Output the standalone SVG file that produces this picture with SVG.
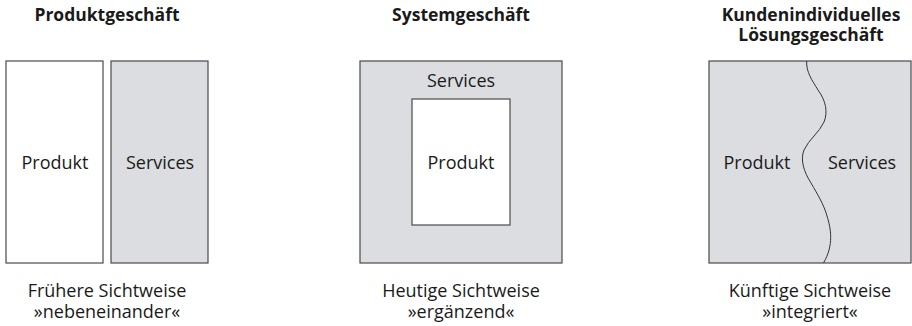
<svg xmlns="http://www.w3.org/2000/svg" width="912" height="326" viewBox="0 0 912 326">
  <style>
    .title { font-family: "Open Sans", "Noto Sans", sans-serif; font-weight: bold; font-size: 17.5px; fill: #1a1a1a; text-anchor: middle; }
    .label { font-family: "Open Sans", "Noto Sans", sans-serif; font-size: 18px; fill: #1a1a1a; text-anchor: middle; }
    .box { stroke: #4a4a4a; stroke-width: 1.2; }
    .white { fill: #ffffff; }
    .grey { fill: #dcdde0; }
  </style>
  <rect width="912" height="326" fill="#ffffff"/>

  <!-- Produktgeschäft: product and services side by side -->
  <g id="produktgeschaeft">
    <text class="title" x="107" y="21">Produktgeschäft</text>
    <g id="pg-produkt">
      <rect class="box white" x="6" y="61" width="97" height="202"/>
      <text class="label" x="55" y="169">Produkt</text>
    </g>
    <g id="pg-services">
      <rect class="box grey" x="111" y="61" width="97" height="202"/>
      <text class="label" x="160" y="169">Services</text>
    </g>
    <text class="label" x="107" y="297">Frühere Sichtweise</text>
    <text class="label" x="107" y="318">»nebeneinander«</text>
  </g>

  <!-- Systemgeschäft: services wrapping the product -->
  <g id="systemgeschaeft">
    <text class="title" x="461" y="21">Systemgeschäft</text>
    <g id="sg-services">
      <rect class="box grey" x="360" y="61" width="202" height="202"/>
      <text class="label" x="461" y="87">Services</text>
    </g>
    <g id="sg-produkt">
      <rect class="box white" x="412" y="99" width="98" height="126"/>
      <text class="label" x="461" y="169">Produkt</text>
    </g>
    <text class="label" x="461" y="297">Heutige Sichtweise</text>
    <text class="label" x="461" y="318">»ergänzend«</text>
  </g>

  <!-- Kundenindividuelles Lösungsgeschäft: integrated, wavy boundary -->
  <g id="loesungsgeschaeft">
    <text class="title" x="811" y="21">Kundenindividuelles</text>
    <text class="title" x="811" y="41">Lösungsgeschäft</text>
    <rect class="box grey" x="709" y="61" width="202" height="202"/>
    <path d="M806.7,61 C806,72 812,80 818,90 C826,101 828,112 824,122 C819,133 809,139 804,150 C800,160 804,172 811,183 C818,195 824,205 827,216 C831,229 834,245 823.5,263" fill="none" stroke="#333" stroke-width="1"/>
    <text class="label" x="757" y="169">Produkt</text>
    <text class="label" x="862" y="169">Services</text>
    <text class="label" x="810" y="297">Künftige Sichtweise</text>
    <text class="label" x="810" y="318">»integriert«</text>
  </g>
</svg>
